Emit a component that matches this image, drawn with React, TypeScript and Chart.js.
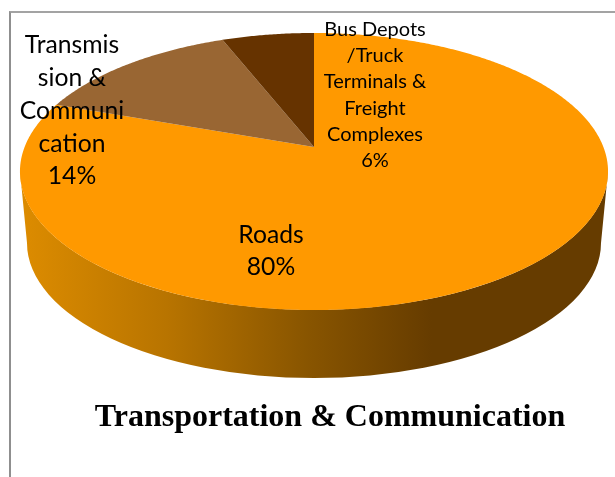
import React, { useEffect, useRef } from "react";
import { Chart, registerables } from "chart.js";

Chart.register(...registerables);

// --- data ---
const categories = ["Roads", "Transmission & Communication", "Bus Depots /Truck Terminals & Freight Complexes"];
const shareValues = [80.4, 13.6, 6.0];
const sliceColors = ["#ff9900", "#996633", "#663300"];
const chartTitle = "Transportation & Communication";
const roadsLines = ["Roads"];
const transmissionLines = ["Transmis", "sion &", "Communi", "cation"];
const busLines = ["Bus Depots", "/Truck", "Terminals &", "Freight", "Complexes"];

// --- presentation ---
const labelStyle = [
  { lines: roadsLines, x: 271, y: 235.5, size: 24.7, step: 32 },
  { lines: transmissionLines, x: 72, y: 45.5, size: 24.7, step: 32.7 },
  { lines: busLines, x: 375, y: 29.5, size: 20, step: 26.2 },
];
const PERSPECTIVE = -0.177; // foreshortening of the disc
const H_SCALE = 289.4;
const V_SCALE = 134.2;

function project(apexX: number, apexY: number, theta: number) {
  const u = Math.sin(theta);
  const v = -Math.cos(theta);
  const w = 1 + PERSPECTIVE * v;
  return [apexX + (H_SCALE * u) / w, apexY + (V_SCALE * v) / w];
}

const perspectivePie = {
  id: "perspectivePie",
  beforeDatasetsDraw(chart: any) {
    const ctx = chart.ctx;
    const arcs = chart.getDatasetMeta(0).data;
    arcs.forEach((arc: any) => {
      arc.draw = (c: CanvasRenderingContext2D) => {
        const a0 = arc.startAngle + Math.PI / 2;
        const a1 = arc.endAngle + Math.PI / 2;
        const steps = Math.max(4, Math.ceil((a1 - a0) * 120));
        c.save();
        c.beginPath();
        c.moveTo(arc.x, arc.y);
        for (let i = 0; i <= steps; i++) {
          const [px, py] = project(arc.x, arc.y, a0 + ((a1 - a0) * i) / steps);
          c.lineTo(px, py);
        }
        c.closePath();
        c.fillStyle = arc.options.backgroundColor;
        c.fill();
        c.restore();
      };
    });
    // rim of the disc
    const cx = arcs[0].x;
    const topCy = 171.5;
    const gradient = ctx.createLinearGradient(20, 0, 608, 0);
    gradient.addColorStop(0, "#dd8c00");
    gradient.addColorStop(0.25, "#b87400");
    gradient.addColorStop(0.48, "#8a5600");
    gradient.addColorStop(0.7, "#663c00");
    gradient.addColorStop(1, "#663c00");
    ctx.save();
    ctx.beginPath();
    ctx.moveTo(cx - 294, topCy);
    ctx.lineTo(cx - 287, 243);
    ctx.ellipse(cx, 243, 287, 135, 0, Math.PI, 0, true);
    ctx.lineTo(cx + 294, topCy);
    ctx.ellipse(cx, topCy, 294, 138.5, 0, 0, Math.PI, false);
    ctx.closePath();
    ctx.fillStyle = gradient;
    ctx.fill();
    ctx.restore();
  },
  afterDatasetsDraw(chart: any) {
    const ctx = chart.ctx;
    const total = shareValues.reduce((a, b) => a + b, 0);
    ctx.save();
    ctx.fillStyle = "#000";
    ctx.textAlign = "center";
    ctx.textBaseline = "middle";
    labelStyle.forEach((s, i) => {
      ctx.font = `${s.size}px Lato`;
      const lines = [...s.lines, `${Math.round((shareValues[i] / total) * 100)}%`];
      lines.forEach((line, j) => ctx.fillText(line, s.x, s.y + j * s.step));
    });
    ctx.restore();
  },
  afterLayout(chart: any) {
    if (chart.titleBlock) {
      chart.titleBlock.left += 16;
      chart.titleBlock.right += 16;
    }
  },
};

export default function App() {
  const ref = useRef<HTMLCanvasElement | null>(null);
  useEffect(() => {
    document.body.style.margin = "0";
    document.documentElement.style.overflow = "hidden";
    const chart = new Chart(ref.current as HTMLCanvasElement, {
      type: "pie",
      data: {
        labels: categories,
        datasets: [{ data: shareValues, backgroundColor: sliceColors, borderWidth: 0 }],
      },
      options: {
        responsive: false,
        animation: false,
        layout: { padding: { left: 20, right: 7, top: 33, bottom: 0 } },
        plugins: {
          legend: { display: false },
          tooltip: { enabled: false },
          title: {
            display: true,
            position: "bottom",
            text: chartTitle,
            color: "#000",
            font: { family: "'Liberation Serif'", size: 32, weight: "bold", lineHeight: 1.2 },
            padding: { top: 137.6, bottom: 40 },
          },
        },
      },
      plugins: [perspectivePie],
    } as any);
    return () => chart.destroy();
  }, []);
  return (
    <div style={{ position: "relative", width: 615, height: 477, overflow: "hidden", background: "#fff" }}>
      <div
        style={{
          position: "absolute",
          left: 9,
          top: 11,
          width: 700,
          height: 600,
          borderLeft: "2px solid #8f8f8f",
          borderTop: "2px solid #a3a3a3",
        }}
      />
      <canvas ref={ref} width={615} height={477} style={{ position: "absolute", left: 0, top: 0, display: "block" }} />
    </div>
  );
}
